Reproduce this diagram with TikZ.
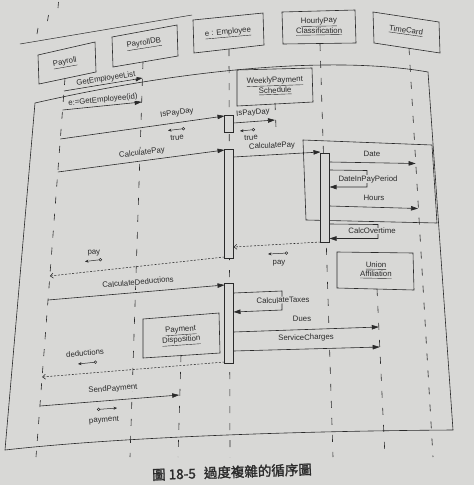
\documentclass[tikz,border=0pt]{standalone}
\usepackage{fontspec}
\setmainfont{Liberation Sans}
\newfontfamily\cjkfont[FakeBold=1.6]{Noto Sans CJK TC}
\usetikzlibrary{arrows.meta}
\definecolor{paper}{HTML}{D8D8D6}
\definecolor{ink}{HTML}{2A2A2A}
\begin{document}
\begin{tikzpicture}[x=1pt,y=-1pt,
  lbl/.style={font=\fontsize{7.8}{9}\selectfont, text=ink, inner sep=0.6pt, fill=paper},
  cls/.style={font=\fontsize{7.8}{9}\selectfont, text=ink, inner sep=0pt, align=center},
  ln/.style={draw=ink, line width=0.6pt},
  life/.style={draw=ink, line width=0.6pt, dash pattern=on 7pt off 10pt},
  msg/.style={draw=ink, line width=0.6pt, -{Triangle[length=7pt,width=4.5pt]}},
  ret/.style={draw=ink, line width=0.55pt, dash pattern=on 2pt off 1.6pt, -{Straight Barb[length=3pt,width=5pt]}},
  tokl/.style={draw=ink, line width=0.5pt, {Circle[open,length=3.2pt,width=3.2pt]}-{Stealth[length=3.5pt,width=3pt]}},
  actbar/.style={draw=ink, line width=0.6pt, fill=paper}]
\fill[paper] (0,0) rectangle (474,485);
\useasboundingbox (0,0) rectangle (474,485);

% stray marks at the top of the page
\draw[ln, line width=0.5pt] (20,44) -- (192,15);
\draw[ln] (58.5,2) -- (58,8);
\draw[ln] (48.5,15) -- (47.5,21);
\draw[ln] (38,28) -- (37,34);

% outer loop frame
\draw[ln] (35,103) .. controls (180,70) and (330,55) .. (428,72) -- (453,430)
  .. controls (300,431) and (120,437) .. (5,450) -- cycle;
% inner loop frame
\draw[ln] (303,140) -- (432,145) -- (437,223) -- (306,220) -- cycle;

% lifelines
\coordinate (P1) at (65,78);   \coordinate (P2) at (36,457);
\coordinate (B1) at (143,62);  \coordinate (B2) at (130,457);
\coordinate (E1) at (229,49);  \coordinate (E2) at (230,457);
\coordinate (H1) at (320,44);  \coordinate (H2) at (333,457);
\coordinate (T1) at (409,48);  \coordinate (T2) at (433,457);
\coordinate (U1) at (377,289); \coordinate (U2) at (385,457);
\coordinate (D1) at (181,355); \coordinate (D2) at (178,457);
\coordinate (W1) at (275,103); \coordinate (W2) at (276,128);
\draw[life] (P1) -- (P2);
\draw[life] (B1) -- (B2);
\draw[life] (E1) -- (E2);
\draw[life] (H1) -- (H2);
\draw[life] (T1) -- (T2);
\draw[life] (U1) -- (U2);
\draw[life] (D1) -- (D2);
\draw[life] (W1) -- (W2);

% activation bars
\draw[actbar] (224.5,115) rectangle (233.5,132);
\draw[actbar] (224.5,149) rectangle (233.5,258);
\draw[actbar] (224.5,283) rectangle (233.5,363);
\draw[actbar] (320.5,153) rectangle (329.5,242);

% message end points
\coordinate (m1s) at (64,91);      \coordinate (m1e) at (142.5,78);
\coordinate (m2s) at (62.6,110);   \coordinate (m2e) at (141.7,102);
\coordinate (m3s) at (60.3,139);   \coordinate (m3e) at (224.5,116);
\coordinate (m4s) at (233.5,123);  \coordinate (m4e) at (275,120);
\coordinate (m5s) at (57.8,172);   \coordinate (m5e) at (224.5,150);
\coordinate (m6s) at (233.5,157);  \coordinate (m6e) at (320.5,152);
\coordinate (m7s) at (329.5,162);  \coordinate (m7e) at (415.6,163.5);
\coordinate (m8s) at (329.5,170);  \coordinate (m8a) at (367,170.5);
\coordinate (m8b) at (367,187);    \coordinate (m8e) at (329.5,187);
\coordinate (m9s) at (329.5,206);  \coordinate (m9e) at (418,208.5);
\coordinate (m10s) at (329.5,224); \coordinate (m10a) at (378,224.5);
\coordinate (m10b) at (378,238.5); \coordinate (m10e) at (329.5,238.5);
\coordinate (r1s) at (320.5,242);  \coordinate (r1e) at (233.5,247);
\coordinate (r2s) at (224.5,257);  \coordinate (r2e) at (49.8,276);
\coordinate (m11s) at (48,300);    \coordinate (m11e) at (224.5,285);
\coordinate (m12s) at (233.5,293); \coordinate (m12a) at (282,291);
\coordinate (m12b) at (282,310);   \coordinate (m12e) at (233.5,312);
\coordinate (m13s) at (233.5,332); \coordinate (m13e) at (378.8,327);
\coordinate (m14s) at (233.5,351); \coordinate (m14e) at (379.7,347);
\coordinate (r3s) at (224.5,362);  \coordinate (r3e) at (42.1,377);
\coordinate (m15s) at (40,406);    \coordinate (m15e) at (179.2,395);

% messages
\draw[msg] (m1s) -- (m1e);
\draw[msg] (m2s) -- (m2e);
\draw[msg] (m3s) -- (m3e);
\draw[msg] (m4s) -- (m4e);
\draw[msg] (m5s) -- (m5e);
\draw[msg] (m6s) -- (m6e);
\draw[msg] (m7s) -- (m7e);
\draw[msg] (m8s) -- (m8a) -- (m8b) -- (m8e);
\draw[msg] (m9s) -- (m9e);
\draw[msg] (m10s) -- (m10a) -- (m10b) -- (m10e);
\draw[ret] (r1s) -- (r1e);
\draw[ret] (r2s) -- (r2e);
\draw[msg] (m11s) -- (m11e);
\draw[msg] (m12s) -- (m12a) -- (m12b) -- (m12e);
\draw[msg] (m13s) -- (m13e);
\draw[msg] (m14s) -- (m14e);
\draw[ret] (r3s) -- (r3e);
\draw[msg] (m15s) -- (m15e);

% message labels
\node[lbl, rotate=9] (l1) at (106,79) {GetEmployeeList};
\node[lbl, rotate=6] (l2) at (103,100) {e:=GetEmployee(id)};
\node[lbl, rotate=8] (l3) at (177,113) {IsPayDay};
\node[lbl, rotate=4] (l4) at (253,113) {IsPayDay};
\node[lbl, rotate=7] (l5) at (142,153) {CalculatePay};
\node[lbl, rotate=3] (l6) at (272,146) {CalculatePay};
\node[lbl, rotate=-1] (l7) at (372,154) {Date};
\node[lbl] (l8) at (368,179) {DateInPayPeriod};
\node[lbl, rotate=-1] (l9) at (374,198) {Hours};
\node[lbl] (l10) at (372,231) {CalcOvertime};
\node[lbl, rotate=5] (l11) at (138,282) {CalculateDeductions};
\node[lbl, rotate=2] (l12) at (283,300) {CalculateTaxes};
\node[lbl, rotate=2] (l13) at (302,319) {Dues};
\node[lbl, rotate=1.5] (l14) at (306,338) {ServiceCharges};
\node[lbl, rotate=4.5] (l15) at (113,389) {SendPayment};

% data tokens
\coordinate (k1s) at (185,128.5); \coordinate (k1e) at (168,130.5);
\coordinate (k2s) at (255,129.5); \coordinate (k2e) at (240,131);
\coordinate (k3s) at (288,253);   \coordinate (k3e) at (268,254);
\coordinate (k4s) at (102,259.5); \coordinate (k4e) at (85,261.5);
\coordinate (k5s) at (97,362);    \coordinate (k5e) at (78,364);
\coordinate (k6s) at (97,409.5);  \coordinate (k6e) at (117,408);
\draw[tokl] (k1s) -- (k1e);
\draw[tokl] (k2s) -- (k2e);
\draw[tokl] (k3s) -- (k3e);
\draw[tokl] (k4s) -- (k4e);
\draw[tokl] (k5s) -- (k5e);
\draw[tokl] (k6s) -- (k6e);
\node[lbl, rotate=5] (t1) at (177,137.5) {true};
\node[lbl, rotate=3] (t2) at (251,137.5) {true};
\node[lbl] (t3) at (279,263) {pay};
\node[lbl, rotate=5] (t4) at (94,253) {pay};
\node[lbl, rotate=5] (t5) at (85,353) {deductions};
\node[lbl, rotate=4] (t6) at (104,420.5) {payment};

% object boxes
\draw[ln] (38,55) -- (95,42) -- (96,72) -- (39,84) -- cycle;
\node[cls, rotate=10] (oPayroll) at (65,63) {\underline{Payroll}};
\draw[ln] (112,37) -- (177,25) -- (178,56) -- (113,67) -- cycle;
\node[cls, rotate=9] (oDB) at (144,44) {\underline{PayrollDB}};
\draw[ln] (193,20) -- (263,13) -- (264,45) -- (194,53) -- cycle;
\node[cls, rotate=5] (oEmp) at (228,33) {\underline{e : Employee}};
\draw[ln] (282,12) -- (355,10) -- (356,43) -- (283,44) -- cycle;
\node[cls, rotate=1] (oHourly) at (319,26.5) {\underline{HourlyPay}\\\underline{Classification}};
\draw[ln] (373,12) -- (439,22) -- (440,53) -- (374,43) -- cycle;
\node[cls, rotate=-8] (oTime) at (406,31) {\underline{TimeCard}};
\draw[ln] (237,70) -- (312,68) -- (313,102) -- (237,106) -- cycle;
\node[cls, rotate=2] (oWeekly) at (275,86) {\underline{WeeklyPayment}\\\underline{Schedule}};
\draw[ln] (337,252) -- (413,253) -- (414,290) -- (337,288) -- cycle;
\node[cls, rotate=-1] (oUnion) at (376,270.5) {\underline{Union}\\\underline{Affiliation}};
\draw[ln] (143,319) -- (219,313) -- (220,353) -- (143,358) -- cycle;
\node[cls, rotate=4] (oPay) at (181,336) {\underline{Payment}\\\underline{Disposition}};

% caption
\node[font=\cjkfont\fontsize{13.5}{14}\selectfont, text=ink, rotate=2, inner sep=0pt] (cap) at (232,472) {圖 18-5\hspace{0.6em}過度複雜的循序圖};
\end{tikzpicture}
\end{document}
